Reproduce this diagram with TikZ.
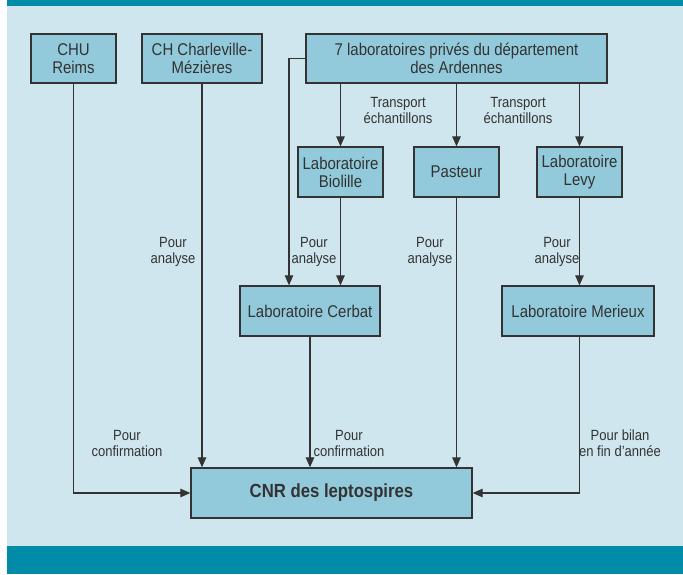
\documentclass[tikz,border=0pt]{standalone}
\usepackage{fontspec}
\setmainfont{Liberation Sans}[FakeStretch=0.88]
\usetikzlibrary{arrows.meta}
\definecolor{teal}{RGB}{0,139,168}
\definecolor{bg}{RGB}{207,230,238}
\definecolor{boxfill}{RGB}{146,202,219}
\definecolor{ink}{RGB}{51,51,51}
\tikzset{
  box/.style={draw=ink, line width=1.3pt, fill=boxfill, minimum height=49pt, inner sep=0pt,
    align=center, text=ink, font=\fontsize{17}{18}\selectfont},
  lbl/.style={align=center, text=ink, font=\fontsize{14.8}{16}\selectfont, inner sep=0pt},
  conn/.style={draw=ink, line width=1.1pt},
  arr/.style={conn, -{Triangle[length=10pt,width=8.5pt]}}
}
\begin{document}
\begin{tikzpicture}[x=1pt,y=-1pt]
\useasboundingbox (0,0) rectangle (683,574);
\fill[white] (0,0) rectangle (683,574);
\fill[bg] (7,6) rectangle (683,546);
\fill[teal] (7,0) rectangle (683,6);
\fill[teal] (7,546) rectangle (683,574);

\node[box, minimum width=85pt] (chu) at (73.5,58.5) {CHU\\Reims};
\node[box, minimum width=120pt] (chc) at (202,58.5) {CH Charleville-\\Mézières};
\node[box, minimum width=301pt] (sept) at (456.5,58.5) {7 laboratoires privés du département\\des Ardennes};
\node[box, minimum width=85pt, minimum height=50pt] (bio) at (340.5,172) {Laboratoire\\Biolille};
\node[box, minimum width=85pt, minimum height=50pt] (pas) at (456.5,172) {Pasteur};
\node[box, minimum width=85pt, minimum height=50pt] (levy) at (579.5,172) {Laboratoire\\Levy};
\node[box, minimum width=140pt, minimum height=50pt] (cerbat) at (310,311) {Laboratoire Cerbat};
\node[box, minimum width=152pt, minimum height=50pt] (merieux) at (578,311) {Laboratoire Merieux};
\node[box, minimum width=281pt, minimum height=50pt, font=\fontsize{19}{20}\selectfont\bfseries] (cnr) at (331.5,493) {CNR des leptospires};

\draw[arr] (chu.south) |- (cnr.west);
\draw[arr] (chc.south) -- (chc.south |- cnr.north);
\draw[arr] (sept.west) -| ([xshift=-21pt]cerbat.north);
\draw[arr] (bio.north |- sept.south) -- (bio.north);
\draw[arr] (sept.south -| pas.north) -- (pas.north);
\draw[arr] (levy.north |- sept.south) -- (levy.north);
\draw[arr] (bio.south) -- (bio.south |- cerbat.north);
\draw[arr] (pas.south) -- (pas.south |- cnr.north);
\draw[arr] (levy.south) -- (levy.south |- merieux.north);
\draw[arr] (cerbat.south) -- (cerbat.south |- cnr.north);
\draw[arr] (levy.south |- merieux.south) |- (cnr.east);

\node[lbl] (t1) at (398,110) {Transport\\échantillons};
\node[lbl] (t2) at (518,110) {Transport\\échantillons};
\node[lbl] (a1) at (173,252) {Pour\\analyse};
\node[lbl] (a2) at (314,252) {Pour\\analyse};
\node[lbl] (a3) at (430,252) {Pour\\analyse};
\node[lbl] (a4) at (557,252) {Pour\\analyse};
\node[lbl] (c1) at (127,443) {Pour\\confirmation};
\node[lbl] (c2) at (349,443) {Pour\\confirmation};
\node[lbl] (b1) at (620,443) {Pour bilan\\en fin d’année};
\end{tikzpicture}
\end{document}
